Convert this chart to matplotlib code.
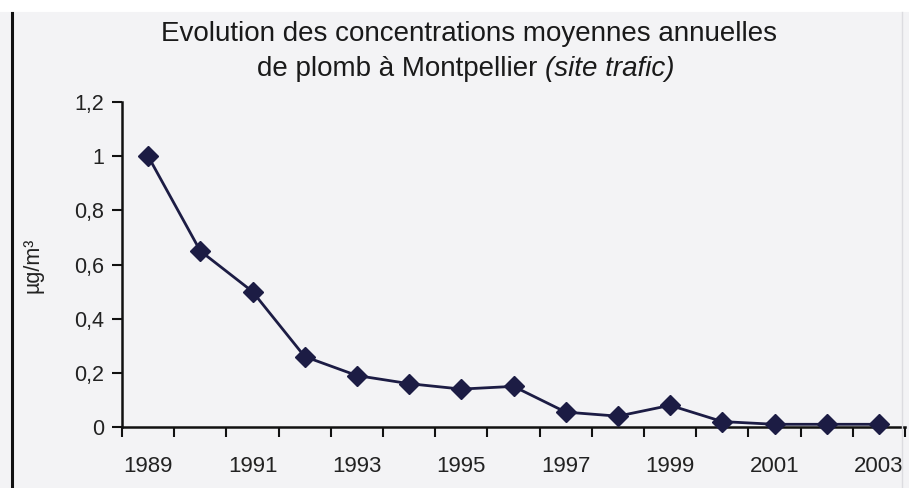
import matplotlib
matplotlib.use("Agg")
import matplotlib.pyplot as plt
from matplotlib.lines import Line2D
import numpy as np

years = list(range(1989, 2004))
plomb = [1.0, 0.65, 0.50, 0.26, 0.19, 0.16, 0.14, 0.15, 0.055, 0.04, 0.08, 0.02, 0.01, 0.01, 0.01]
y_ticks = [0, 0.2, 0.4, 0.6, 0.8, 1.0, 1.2]
y_tick_labels = ["0", "0,2", "0,4", "0,6", "0,8", "1", "1,2"]

plt.rcParams["font.family"] = ["Liberation Sans", "DejaVu Sans"]

W, H = 909, 488
fig = plt.figure(figsize=(W / 100, H / 100), dpi=100, facecolor="#f3f3f5")
ax = fig.add_axes([122 / W, 1 - 427 / H, (905 - 122) / W, (427 - 102) / H])
ax.set_facecolor("none")

n = len(years)
x = np.arange(n)
ax.plot(x, plomb, color="#1c1c44", lw=2.0, marker="D", ms=10,
        mec="#1c1c44", mfc="#1c1c44", zorder=3, clip_on=False)

ax.set_xlim(-0.5, n - 0.5)
ax.set_ylim(0, 1.2)

# tick marks between categories, labels every other year
ax.set_xticks(np.arange(n + 1) - 0.5)
ax.set_xticklabels([])
ax.set_xticks(x[::2], minor=True)
ax.set_xticklabels([str(y) for y in years[::2]], minor=True)
ax.tick_params(axis="x", which="major", direction="out", length=7, width=1.5, color="#111")
ax.tick_params(axis="x", which="minor", length=0, pad=21, labelsize=16, labelcolor="#222")

ax.set_yticks(y_ticks)
ax.set_yticklabels(y_tick_labels)
ax.tick_params(axis="y", direction="out", length=7, width=1.5, color="#111",
               labelsize=15.5, labelcolor="#222", pad=6)

for s in ["top", "right"]:
    ax.spines[s].set_visible(False)
for s in ["left", "bottom"]:
    ax.spines[s].set_linewidth(1.8)
    ax.spines[s].set_color("#111")

fig.text(33 / W, 1 - 265 / H, "µg/m³", rotation=90, ha="center", va="center",
         fontsize=15.5, color="#222")

# title
fs = 20
fig.text(469 / W, 1 - 41 / H, "Evolution des concentrations moyennes annuelles",
         ha="center", va="baseline", fontsize=fs, color="#1a1a1a")
t1 = fig.text(0, 1 - 76 / H, "de plomb à Montpellier ",
              ha="left", va="baseline", fontsize=fs, color="#1a1a1a")
t2 = fig.text(0, 1 - 76 / H, "(site trafic)",
              ha="left", va="baseline", fontsize=fs, color="#1a1a1a", style="italic")
r = fig.canvas.get_renderer()
w1 = t1.get_window_extent(r).width
w2 = t2.get_window_extent(r).width
x0 = 466 - (w1 + w2) / 2
t1.set_x(x0 / W)
t2.set_x((x0 + w1) / W)

# page border lines
fig.add_artist(Line2D([12 / W, 12 / W], [0, 1 - 12 / H], color="#111", lw=2.2))
fig.add_artist(Line2D([0, 1], [1 - 5 / H, 1 - 5 / H], color="white", lw=10))
fig.add_artist(Line2D([902 / W, 902 / W], [0, 1 - 12 / H], color="#dcdce0", lw=1))

fig.savefig("out.png", dpi=100, facecolor=fig.get_facecolor())
